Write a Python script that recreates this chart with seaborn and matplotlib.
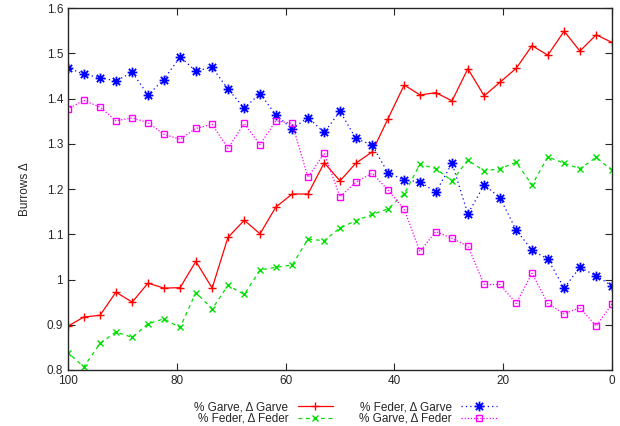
import matplotlib
matplotlib.use('Agg')
import matplotlib.pyplot as plt
from matplotlib.ticker import FuncFormatter
from matplotlib.path import Path
import seaborn as sns
import pandas as pd

# Share of text (%) on the x axis, from 100 down to 0
pct = [100, 97.1, 94.1, 91.2, 88.2, 85.3, 82.4, 79.4, 76.5, 73.5, 70.6, 67.6,
       64.7, 61.8, 58.8, 55.9, 52.9, 50.0, 47.1, 44.1, 41.2, 38.2, 35.3, 32.4,
       29.4, 26.5, 23.5, 20.6, 17.6, 14.7, 11.8, 8.8, 5.9, 2.9, 0]

garve_garve = [0.897, 0.917, 0.921, 0.972, 0.950, 0.992, 0.981, 0.982, 1.040,
               0.981, 1.093, 1.131, 1.101, 1.160, 1.189, 1.189, 1.258, 1.218,
               1.257, 1.282, 1.355, 1.430, 1.408, 1.413, 1.395, 1.466, 1.406,
               1.436, 1.467, 1.517, 1.496, 1.549, 1.505, 1.541, 1.524]

feder_feder = [0.838, 0.807, 0.859, 0.884, 0.872, 0.902, 0.913, 0.894, 0.971,
               0.935, 0.987, 0.967, 1.021, 1.027, 1.032, 1.089, 1.086, 1.114,
               1.130, 1.144, 1.156, 1.189, 1.255, 1.245, 1.218, 1.264, 1.240,
               1.245, 1.259, 1.209, 1.271, 1.257, 1.245, 1.270, 1.241]

feder_garve = [1.468, 1.454, 1.446, 1.439, 1.458, 1.408, 1.442, 1.492, 1.461,
               1.469, 1.421, 1.379, 1.411, 1.364, 1.333, 1.358, 1.325, 1.372,
               1.312, 1.297, 1.236, 1.220, 1.216, 1.193, 1.257, 1.145, 1.209,
               1.181, 1.109, 1.065, 1.045, 0.981, 1.027, 1.008, 0.986]

garve_feder = [1.377, 1.396, 1.381, 1.351, 1.357, 1.347, 1.321, 1.310, 1.334,
               1.343, 1.290, 1.345, 1.298, 1.351, 1.345, 1.226, 1.279, 1.183,
               1.215, 1.235, 1.198, 1.155, 1.062, 1.106, 1.091, 1.074, 0.989,
               0.989, 0.947, 1.014, 0.947, 0.924, 0.938, 0.897, 0.946]

labels = ['% Garve, Δ Garve', '% Feder, Δ Feder',
          '% Feder, Δ Garve', '% Garve, Δ Feder']
x_ticks = [100, 80, 60, 40, 20, 0]
y_ticks = [0.8, 0.9, 1.0, 1.1, 1.2, 1.3, 1.4, 1.5, 1.6]

sns.set_style('ticks')
plt.rcParams['font.family'] = ['Liberation Sans', 'DejaVu Sans']
plt.rcParams['font.size'] = 8.5

df = pd.DataFrame({'pct': pct, labels[0]: garve_garve, labels[1]: feder_feder,
                   labels[2]: feder_garve, labels[3]: garve_feder})

fig = plt.figure(figsize=(6.2, 4.26), dpi=100)
ax = fig.add_axes([0.1097, 0.1315, 0.8774, 0.8495])

# gnuplot's "*" point: a plus and a cross drawn on top of each other
star = Path([(-1, 0), (1, 0), (0, -1), (0, 1),
             (-0.75, -0.75), (0.75, 0.75), (-0.75, 0.75), (0.75, -0.75)],
            [Path.MOVETO, Path.LINETO] * 4)

# gnuplot-like line/point styles
styles = [
    dict(color='#ff0000', linestyle='-', marker='+', markersize=6, markeredgewidth=1),
    dict(color='#00e000', linestyle=(0, (3, 3)), marker='x', markersize=5, markeredgewidth=1),
    dict(color='#0000ff', linestyle=(0, (1, 2.5)), marker=star, markersize=7,
         markeredgewidth=1.3),
    dict(color='#ff00ff', linestyle=(0, (1, 1.5)), marker='s', markersize=5,
         markeredgewidth=1, markerfacecolor='none'),
]

handles = []
for lab, st in zip(labels, styles):
    sns.lineplot(data=df, x='pct', y=lab, ax=ax, color=st['color'], linewidth=0.9)
    line = ax.lines[-1]
    line.set(**st)
    line.set_markeredgecolor(st['color'])
    handles.append(line)

ax.set_xlim(100, 0)
ax.set_ylim(0.8, 1.6)
ax.set_xticks(x_ticks)
ax.set_yticks(y_ticks)
ax.yaxis.set_major_formatter(FuncFormatter(lambda v, p: '%g' % v))
ax.set_xlabel('')
ax.set_ylabel('Burrows Δ', labelpad=11)
ax.tick_params(direction='in', top=True, right=True, length=5, width=0.8, labelsize=8.5)
for s in ax.spines.values():
    s.set_linewidth(1)

ax.legend(handles=handles, labels=labels, loc='upper center',
          bbox_to_anchor=(0.51, -0.064), ncol=2, frameon=False,
          markerfirst=False, handlelength=3.0, columnspacing=2.2, labelspacing=-0.05,
          borderpad=0.2, fontsize=8.5)

plt.savefig('out.png', dpi=100)
